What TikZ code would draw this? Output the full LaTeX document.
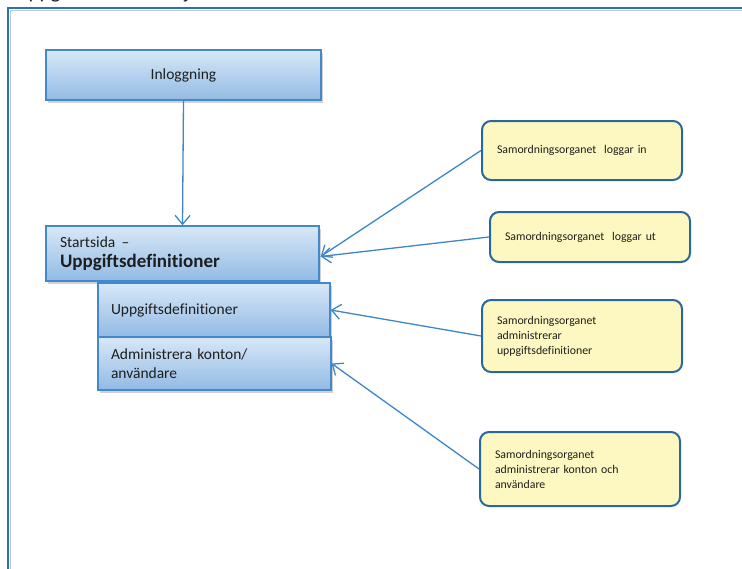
\documentclass[tikz,border=0pt]{standalone}
\usepackage{fontspec}
\setmainfont{Carlito}[Ligatures=NoCommon]
\usetikzlibrary{arrows.meta,shadows}
\definecolor{frameblue}{RGB}{46,112,170}
\definecolor{boxtop}{RGB}{216,232,248}
\definecolor{boxbot}{RGB}{146,186,228}
\definecolor{boxedge}{RGB}{66,136,202}
\definecolor{notefill}{RGB}{253,248,194}
\definecolor{noteedge}{RGB}{40,104,156}
\definecolor{linkblue}{RGB}{62,134,200}
\definecolor{txt}{RGB}{30,30,30}
\tikzset{
  pagebox/.style={draw=boxedge, line width=1.3pt, top color=boxtop, bottom color=boxbot,
    drop shadow={shadow xshift=2pt, shadow yshift=-3pt, opacity=0.3, fill=black!60},
    text=txt, inner sep=0pt},
  notebox/.style={draw=noteedge, line width=2pt, fill=notefill, rounded corners=9pt,
    text=txt, align=left, inner xsep=15pt, inner ysep=0pt,
    font=\fontsize{11.8}{15}\selectfont},
  link/.style={draw=linkblue, line width=1.3pt,
    -{Straight Barb[length=9pt, width=15pt, line width=1.3pt]}}
}
\begin{document}
\begin{tikzpicture}[x=1pt, y=-1pt]
\useasboundingbox (0,0) rectangle (742,568);
% heading, mostly above the page edge
\node[anchor=base west, inner sep=0pt, text=txt, font=\fontsize{21}{24}\selectfont] (title) at (15,-1.5) {Uppgiftsdefinitionstjänsten};
% outer frame
\draw[frameblue, line width=1.6pt] (8,580) -- (8,8) -- (760,8);
\draw[frameblue!35, line width=0.8pt] (10,580) -- (10,10) -- (760,10);

% page boxes
\node[pagebox, minimum width=275pt, minimum height=50pt, font=\fontsize{15.5}{18}\selectfont] (login) at (183.5,75) {Inloggning};
\node[pagebox, minimum width=273pt, minimum height=55pt, text width=245pt, align=left, inner xsep=14pt,
  font=\fontsize{19}{22}\selectfont] (start) at (182.5,253.5)
  {{\fontsize{15.5}{18}\selectfont Startsida –}\\[-2pt]{\bfseries Uppgiftsdefinitioner}};
\node[pagebox, minimum width=232pt, minimum height=54pt, text width=206pt, align=left, inner xsep=13pt,
  font=\fontsize{15.5}{18.5}\selectfont] (tasks) at (214,310) {Uppgiftsdefinitioner};
\node[pagebox, minimum width=233pt, minimum height=53pt, text width=207pt, align=left, inner xsep=13pt,
  font=\fontsize{15.5}{18.5}\selectfont] (admin) at (214.5,363.5) {Administrera konton/\\användare};

% notes
\node[notebox, minimum width=200pt, minimum height=59pt, text width=170pt] (n1) at (582,150.5) {Samordningsorganet\ \ loggar in};
\node[notebox, minimum width=200pt, minimum height=50pt, text width=170pt] (n2) at (590,237) {Samordningsorganet\ \ loggar ut};
\node[notebox, minimum width=200pt, minimum height=72pt, text width=170pt] (n3) at (582,336) {Samordningsorganet\\administrerar\\uppgiftsdefinitioner};
\node[notebox, minimum width=200pt, minimum height=74pt, text width=170pt] (n4) at (580,469) {Samordningsorganet\\administrerar konton och\\användare};

% connectors
\draw[link] (login.south) -- (start.north);
\draw[link] (n1.west) -- ([xshift=1pt,yshift=-3pt]start.east);
\draw[link] (n2.west) -- ([xshift=1pt,yshift=-3pt]start.east);
\draw[link] (n3.west) -- (tasks.east);
\draw[link] (n4.west) -- (admin.east);
\end{tikzpicture}
\end{document}
